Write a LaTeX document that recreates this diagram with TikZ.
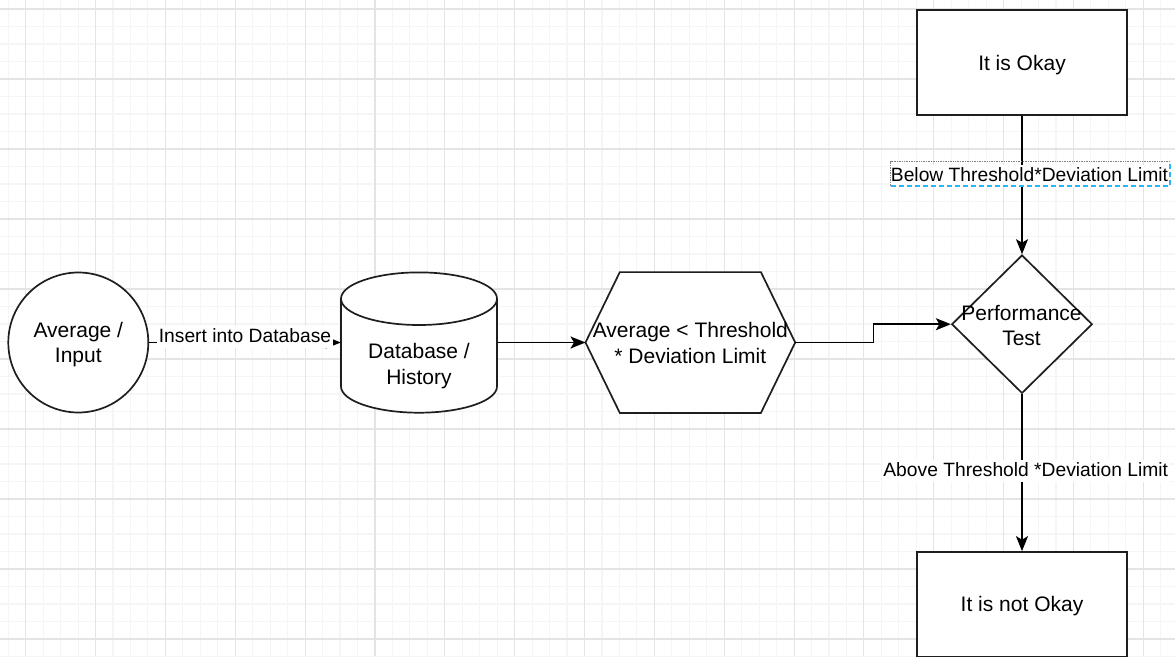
\documentclass[tikz,border=0pt]{standalone}
\usepackage{fontspec}
\setmainfont{Liberation Sans}
\usetikzlibrary{arrows.meta,shapes.geometric}
\definecolor{gridminor}{RGB}{245,245,245}
\definecolor{gridmajor}{RGB}{228,228,228}
\definecolor{selblue}{RGB}{41,182,242}
\definecolor{strokec}{RGB}{30,30,30}
\begin{document}
\begin{tikzpicture}[x=1pt,y=-1pt,
  shapeline/.style={draw=strokec, line width=1.7pt, fill=white},
  conn/.style={draw=black, line width=1.7pt, -{Stealth[length=15pt,width=12pt,inset=3.5pt]}},
  maintext/.style={font=\fontsize{21}{25.2}\selectfont, align=center, inner sep=0pt, text=black},
  edgelabel/.style={font=\fontsize{19.25}{23}\selectfont, fill=white, inner sep=1.5pt, anchor=base, text height=14.5pt, text depth=4.5pt},
  anchorbox/.style={draw=none, inner sep=0pt, minimum width=#1},
]
\useasboundingbox (0,0) rectangle (1175,656);
\fill[white] (0,0) rectangle (1175,656);
\begin{scope}
\clip (0,0) rectangle (1175,656);
\foreach \i in {0,...,72} {\draw[gridminor, line width=1.1pt] ({-44.15+\i*17.4625},0) -- ({-44.15+\i*17.4625},656);}
\foreach \i in {0,...,42} {\draw[gridminor, line width=1.1pt] (0,{-61+\i*17.5}) -- (1175,{-61+\i*17.5});}
\foreach \i in {0,...,18} {\draw[gridmajor, line width=1.1pt] ({-44.15+\i*69.85},0) -- ({-44.15+\i*69.85},656);}
\foreach \i in {0,...,10} {\draw[gridmajor, line width=1.1pt] (0,{-61+\i*70}) -- (1175,{-61+\i*70});}
\end{scope}

% circle
\node[circle, shapeline, minimum size=140pt, inner sep=0pt] (avg) at (78.3,342.5) {};
\node[maintext] (avgtxt) at (78.3,344.5) {Average /\\Input};

% cylinder
\node[anchorbox=156pt, minimum height=140.4pt] (db) at (419,342.5) {};
\path[shapeline] (341,298.7) arc[start angle=180, end angle=360, x radius=78, y radius=26.3]
  -- (497,386.4) arc[start angle=0, end angle=180, x radius=78, y radius=26.3] -- cycle;
\draw[draw=strokec, line width=1.7pt] (341,298.7) arc[start angle=180, end angle=0, x radius=78, y radius=26.3];
\node[maintext] (dbtxt) at (419,366) {Database /\\History};

% hexagon
\node[anchorbox=209.3pt, minimum height=140.4pt] (hex) at (690.35,342.5) {};
\path[shapeline] (hex.west) -- ([xshift=34.3pt]hex.north west) -- ([xshift=-34.3pt]hex.north east)
  -- (hex.east) -- ([xshift=-34.3pt]hex.south east) -- ([xshift=34.3pt]hex.south west) -- cycle;
\node[maintext] (hextxt) at (690.35,343) {Average < Threshold\\* Deviation Limit};

% diamond
\node[diamond, shapeline, minimum width=140.6pt, minimum height=138.3pt, inner sep=0pt] (perf) at (1022,324.2) {};
\node[maintext] (perftxt) at (1021.5,325.5) {Performance\\Test};

% boxes
\node[rectangle, shapeline, minimum width=209.4pt, minimum height=105pt] (ok) at (1022,62.5) {};
\node[maintext, anchor=base] (oktxt) at (1022,70.7) {It is Okay};
\node[rectangle, shapeline, minimum width=209.4pt, minimum height=105pt] (notok) at (1022,604.5) {};
\node[maintext, anchor=base] (notoktxt) at (1022,611.7) {It is not Okay};

% connectors
\draw[conn] (avg.east) -- (db.west);
\draw[conn] (db.east) -- (hex.west);
\draw[conn] (hex.east) -- ++(78.3,0) |- (perf.west);
\draw[conn] (ok.south) -- (perf.north);
\draw[conn] (perf.south) -- (notok.north);

% labels
\node[edgelabel] (lblins) at (245,342.3) {Insert into Database};
\node[edgelabel] (lblbelow) at (1029.5,181) {Below Threshold*Deviation Limit};
\node[edgelabel] (lblabove) at (1025.7,476) {Above Threshold *Deviation Limit};

% selection frame around the upper label
\draw[gray, densely dotted, line width=0.7pt] (890.7,186) |- (1170,161.7);
\draw[selblue, dash pattern=on 5pt off 3pt, line width=1.6pt] (890.7,186) -| (1170,161.7);
\end{tikzpicture}
\end{document}
